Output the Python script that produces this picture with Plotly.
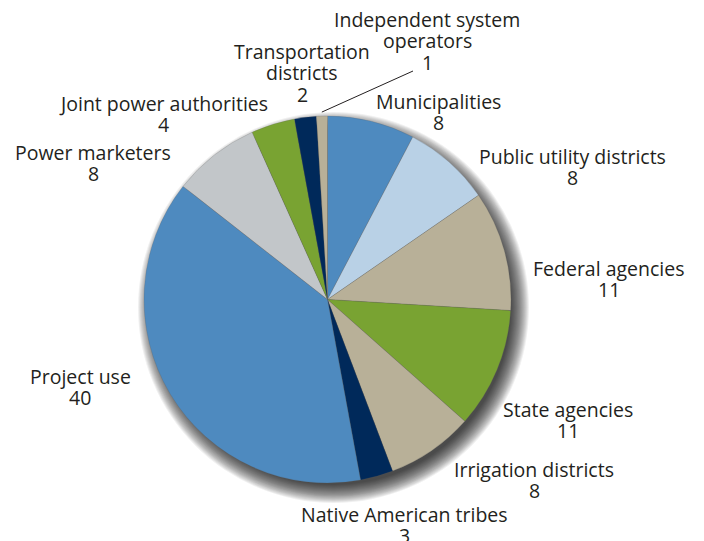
import math
import plotly.graph_objects as go

# ---- data ----
categories = ["Municipalities", "Public utility districts", "Federal agencies",
              "State agencies", "Irrigation districts", "Native American tribes",
              "Project use", "Power marketers", "Joint power authorities",
              "Transportation districts", "Independent system operators"]
values = [8, 8, 11, 11, 8, 3, 40, 8, 4, 2, 1]
label_lines = [["Municipalities"], ["Public utility districts"], ["Federal agencies"],
               ["State agencies"], ["Irrigation districts"], ["Native American tribes"],
               ["Project use"], ["Power marketers"], ["Joint power authorities"],
               ["Transportation", "districts"], ["Independent system", "operators"]]

# ---- style ----
colors = ["#4E8ABF", "#B9D1E6", "#B8B098", "#79A332", "#B8B098", "#00295A",
          "#4E8ABF", "#C2C6C9", "#79A332", "#00295A", "#B8B098"]
W, H = 704, 541
CX, CY, R = 327.5, 299.5, 183.5
# label block centres in pixels (layout)
LABEL_XY = [(438, 112), (572, 167), (609, 279), (568, 420), (534, 480),
            (404, 525), (80, 387), (93, 163), (163, 114), (302, 73), (427, 41)]
LINE_GAP = 21.5
LEADER_END = (413, 71)
FONT = dict(family="Open Sans", size=19.5, color="#231F20")

def px2paper(x, y):
    return x / W, 1 - y / H

fig = go.Figure()
fig.add_trace(go.Pie(
    labels=categories, values=values, sort=False, direction="clockwise",
    rotation=0, textinfo="none", hoverinfo="label+value",
    marker=dict(colors=colors, line=dict(color="rgba(90,90,90,0.35)", width=0.6)),
    domain=dict(x=[(CX - R) / W, (CX + R) / W], y=[1 - (CY + R) / H, 1 - (CY - R) / H]),
    showlegend=False,
))

shapes = []
# soft drop shadow to the lower right
ox, oy = 6, 8
for i in range(19):
    r = R + 12 - i
    x0, y0 = px2paper(CX + ox - r, CY + oy + r)
    x1, y1 = px2paper(CX + ox + r, CY + oy - r)
    shapes.append(dict(type="circle", xref="paper", yref="paper", x0=x0, y0=y0, x1=x1, y1=y1,
                       fillcolor="rgba(0,0,0,0.06)", line=dict(width=0), layer="below"))

# leader line for the smallest slice
total = sum(values)
cum = sum(values[:-1]) + values[-1] / 2
ang = math.radians(cum / total * 360)
sx, sy = CX + (R + 4) * math.sin(ang), CY - (R + 4) * math.cos(ang)
a0 = px2paper(sx, sy)
a1 = px2paper(*LEADER_END)
shapes.append(dict(type="line", xref="paper", yref="paper", x0=a0[0], y0=a0[1],
                   x1=a1[0], y1=a1[1], line=dict(color="#231F20", width=1)))

annotations = []
for lines, v, (lx, ly) in zip(label_lines, values, LABEL_XY):
    allines = lines + [str(v)]
    n = len(allines)
    for i, t in enumerate(allines):
        px, py = px2paper(lx, ly + (i - (n - 1) / 2) * LINE_GAP)
        annotations.append(dict(text=t, x=px, y=py, xref="paper", yref="paper",
                                showarrow=False, xanchor="center", yanchor="middle",
                                borderpad=0, font=FONT))

fig.update_layout(width=W, height=H, margin=dict(l=0, r=0, t=0, b=0),
                  paper_bgcolor="white", plot_bgcolor="white",
                  shapes=shapes, annotations=annotations)
fig.write_html("out.html", config={"displayModeBar": False},
               post_script="document.body.style.margin='0px';")
